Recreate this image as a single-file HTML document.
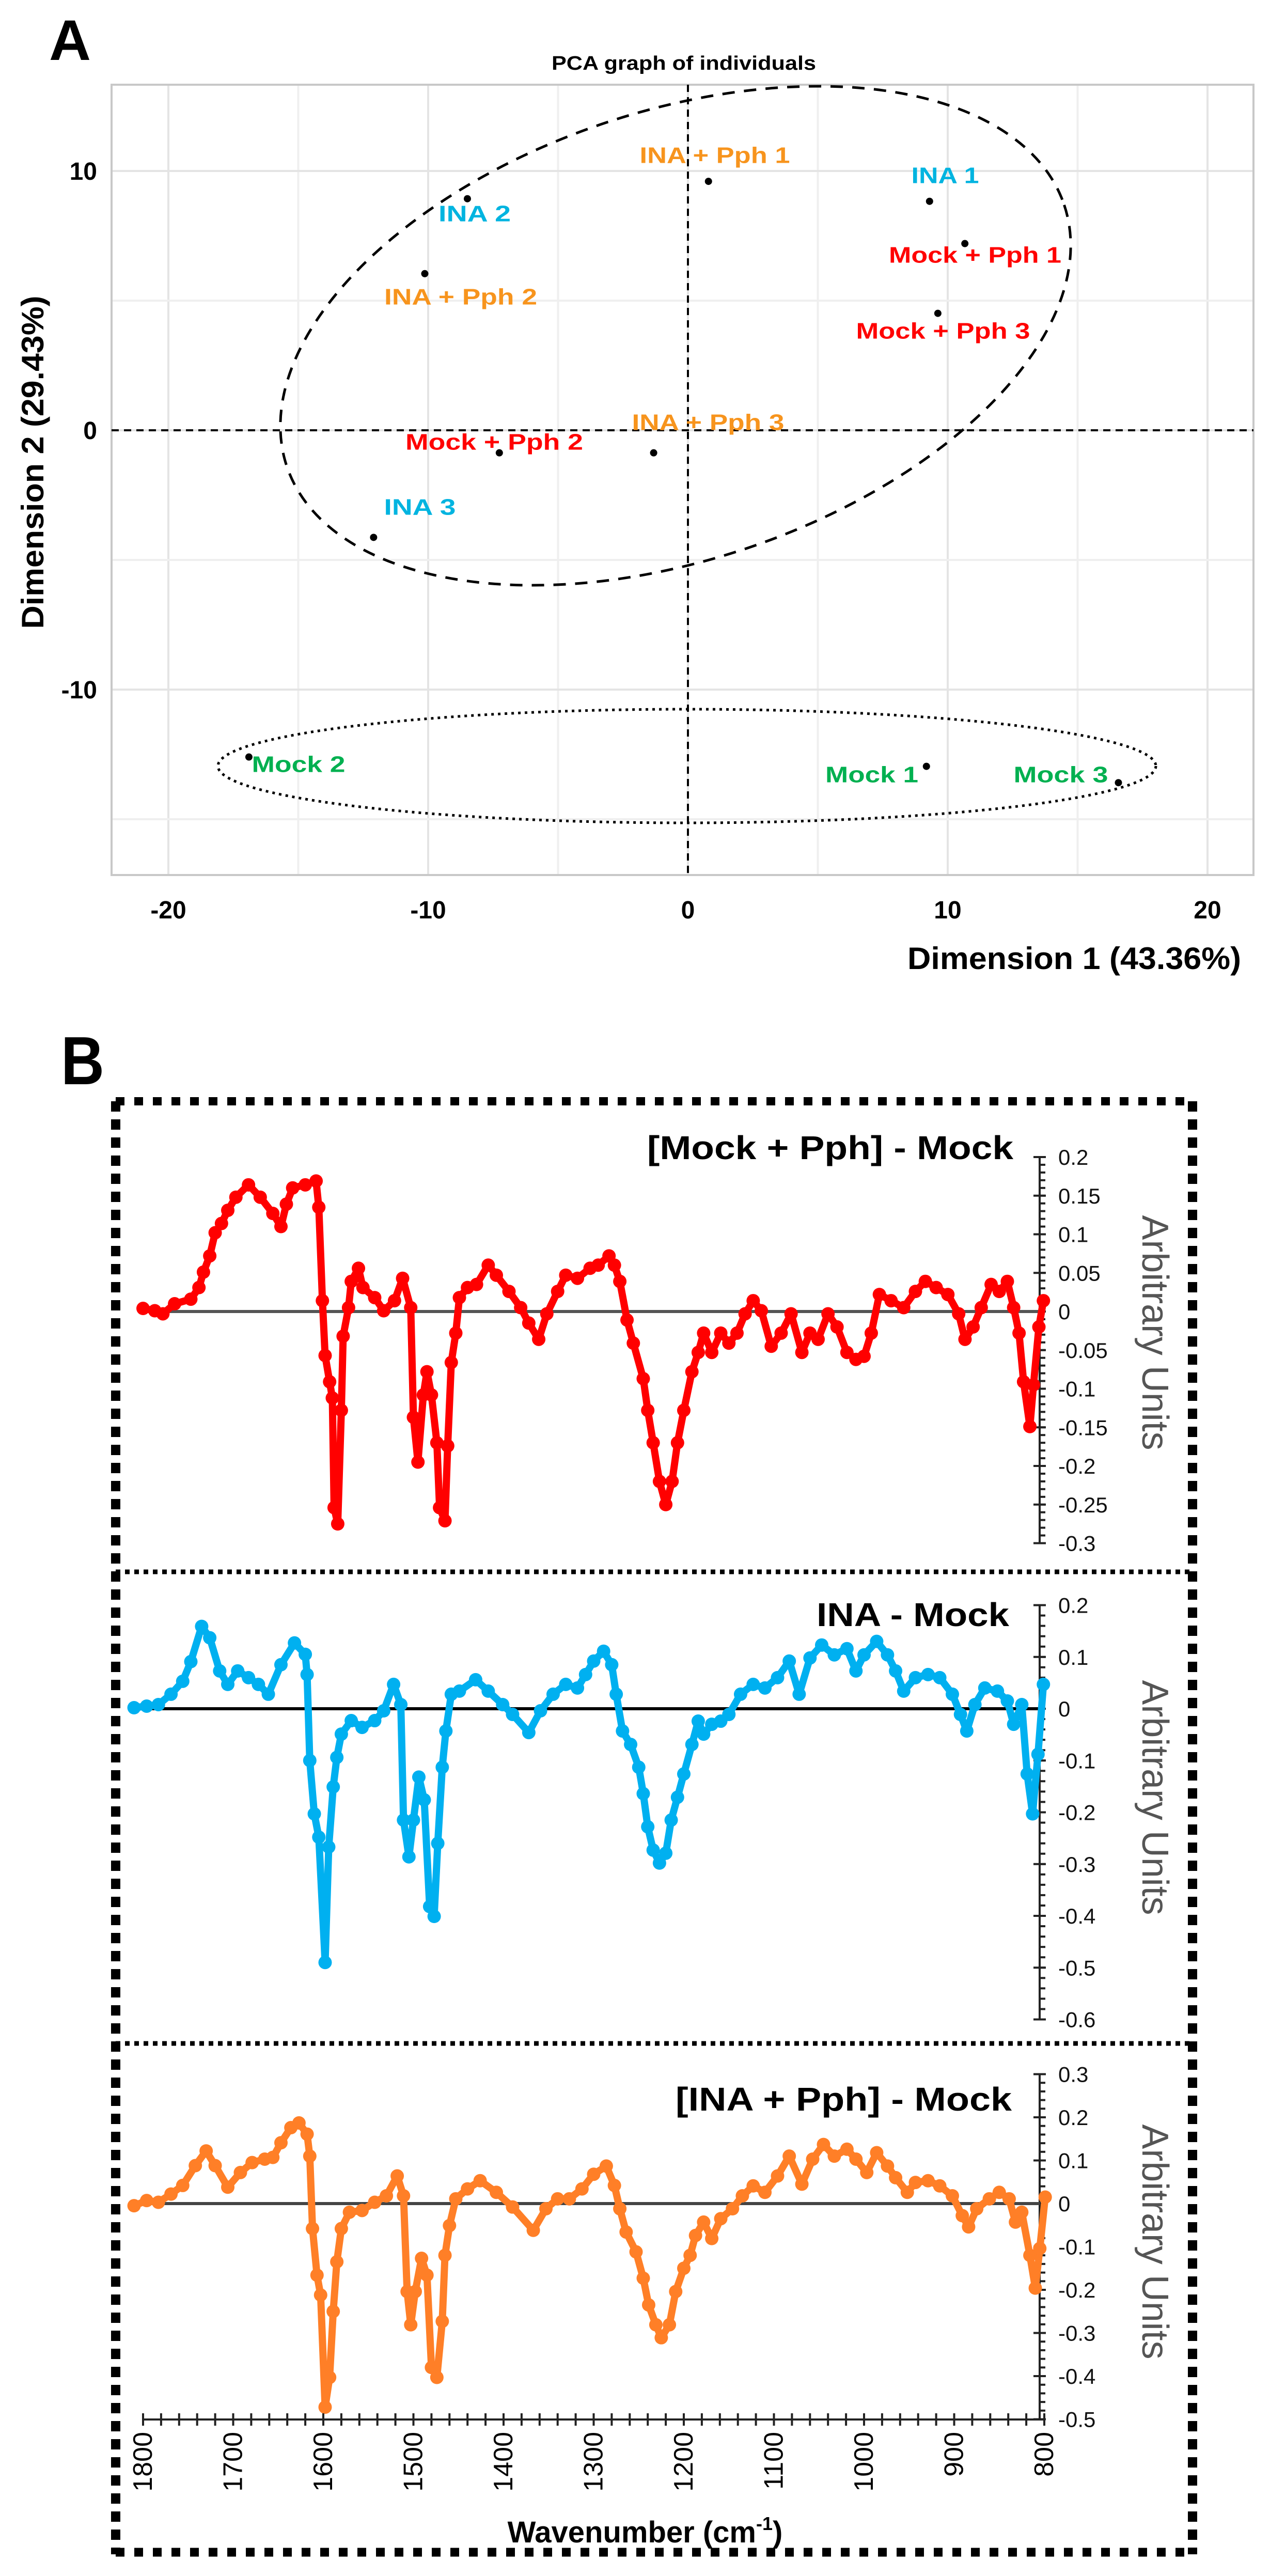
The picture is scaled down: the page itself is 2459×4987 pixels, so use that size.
<!DOCTYPE html>
<html><head><meta charset="utf-8"><title>PCA and difference spectra</title>
<style>
html,body{margin:0;padding:0;background:#fff;}
svg{display:block;font-family:"Liberation Sans",Arial,sans-serif;}
</style></head>
<body>
<svg id="fig" xmlns="http://www.w3.org/2000/svg" width="2459" height="4987" viewBox="0 0 2459 4987">
<rect x="0" y="0" width="2459" height="4987" fill="#fff"/>
<g id="panelA">
  <text x="95" y="116" font-size="110" font-weight="bold" textLength="81" lengthAdjust="spacingAndGlyphs">A</text>
  <text x="1324" y="135" font-size="38" font-weight="bold" text-anchor="middle" textLength="512" lengthAdjust="spacingAndGlyphs">PCA graph of individuals</text>
  <g id="pcaGrid"></g>
  <rect x="216" y="164" width="2211" height="1530" fill="none" stroke="#c8c8c8" stroke-width="4"/>
  <g id="pcaAxes"></g>
  <ellipse cx="1308" cy="650" rx="794" ry="434" transform="rotate(-18.6 1308 650)" fill="none" stroke="#000" stroke-width="5" stroke-dasharray="24 18"/>
  <ellipse cx="1330" cy="1483" rx="908" ry="110" fill="none" stroke="#000" stroke-width="5" stroke-dasharray="5 8"/>
  <g id="pcaPoints"></g>
  <g font-size="44" font-weight="bold" text-anchor="middle" dominant-baseline="central">
    <text x="1384" y="301" fill="#f7941d" textLength="291" lengthAdjust="spacingAndGlyphs">INA + Pph 1</text>
    <text x="1830" y="340" fill="#00b4e0" textLength="131" lengthAdjust="spacingAndGlyphs">INA 1</text>
    <text x="1888" y="494" fill="#ff0000" textLength="334" lengthAdjust="spacingAndGlyphs">Mock + Pph 1</text>
    <text x="1826" y="641" fill="#ff0000" textLength="337" lengthAdjust="spacingAndGlyphs">Mock + Pph 3</text>
    <text x="919" y="414" fill="#00b4e0" textLength="140" lengthAdjust="spacingAndGlyphs">INA 2</text>
    <text x="892" y="575" fill="#f7941d" textLength="296" lengthAdjust="spacingAndGlyphs">INA + Pph 2</text>
    <text x="957" y="856" fill="#ff0000" textLength="344" lengthAdjust="spacingAndGlyphs">Mock + Pph 2</text>
    <text x="1371" y="818" fill="#f7941d" textLength="295" lengthAdjust="spacingAndGlyphs">INA + Pph 3</text>
    <text x="813" y="982" fill="#00b4e0" textLength="139" lengthAdjust="spacingAndGlyphs">INA 3</text>
    <text x="578" y="1480" fill="#00b050" textLength="181" lengthAdjust="spacingAndGlyphs">Mock 2</text>
    <text x="1688" y="1500" fill="#00b050" textLength="180" lengthAdjust="spacingAndGlyphs">Mock 1</text>
    <text x="2054" y="1500" fill="#00b050" textLength="183" lengthAdjust="spacingAndGlyphs">Mock 3</text>
  </g>
  <text x="2403" y="1876" font-size="60" font-weight="bold" text-anchor="end" textLength="646" lengthAdjust="spacingAndGlyphs">Dimension 1 (43.36%)</text>
  <text transform="translate(84 895) rotate(-90)" font-size="60" font-weight="bold" text-anchor="middle" textLength="645" lengthAdjust="spacingAndGlyphs">Dimension 2 (29.43%)</text>
</g>
<g id="panelB">
  <text x="118" y="2099" font-size="132" font-weight="bold" textLength="84" lengthAdjust="spacingAndGlyphs">B</text>
  <g stroke="#000">
    <line x1="224" y1="2132" x2="2310" y2="2132" stroke-width="16" stroke-dasharray="17 19"/>
    <line x1="224" y1="4941" x2="2310" y2="4941" stroke-width="17" stroke-dasharray="17 19"/>
    <line x1="224" y1="2132" x2="224" y2="4945" stroke-width="18" stroke-dasharray="20 15"/>
    <line x1="2309" y1="2132" x2="2309" y2="4945" stroke-width="18" stroke-dasharray="20 15"/>
    <line x1="224" y1="3043" x2="2310" y2="3043" stroke-width="9" stroke-dasharray="9 9"/>
    <line x1="224" y1="3956" x2="2310" y2="3956" stroke-width="9" stroke-dasharray="9 9"/>
  </g>
  <g id="spectra"></g>
  <text x="1962" y="2244" font-size="64" font-weight="bold" text-anchor="end" textLength="709" lengthAdjust="spacingAndGlyphs">[Mock + Pph] - Mock</text>
  <text x="1954" y="3148" font-size="64" font-weight="bold" text-anchor="end" textLength="373" lengthAdjust="spacingAndGlyphs">INA - Mock</text>
  <text x="1959" y="4086" font-size="64" font-weight="bold" text-anchor="end" textLength="651" lengthAdjust="spacingAndGlyphs">[INA + Pph] - Mock</text>
  <text transform="translate(2212 2580) rotate(90)" font-size="72" fill="#555" text-anchor="middle" textLength="455" lengthAdjust="spacingAndGlyphs">Arbitrary Units</text>
  <text transform="translate(2212 3480) rotate(90)" font-size="72" fill="#555" text-anchor="middle" textLength="455" lengthAdjust="spacingAndGlyphs">Arbitrary Units</text>
  <text transform="translate(2212 4340) rotate(90)" font-size="72" fill="#555" text-anchor="middle" textLength="455" lengthAdjust="spacingAndGlyphs">Arbitrary Units</text>
  <text x="1249" y="4922" font-size="58" font-weight="bold" text-anchor="middle">Wavenumber (cm<tspan font-size="36" dy="-24">-1</tspan><tspan dy="24">)</tspan></text>
</g>
</svg>
<script>
const pcaNames = ["INA + Pph 1","INA 1","Mock + Pph 1","Mock + Pph 3","INA 2","INA + Pph 2","Mock + Pph 2","INA + Pph 3","INA 3","Mock 2","Mock 1","Mock 3"];
const pcaDim1 = [0.79, 9.3, 10.66, 9.62, -8.49, -10.13, -7.26, -1.32, -12.1, -16.9, 9.18, 16.57];
const pcaDim2 = [9.6, 8.83, 7.2, 4.51, 8.93, 6.04, -0.87, -0.87, -4.13, -12.6, -12.96, -13.59];
const pcaXTicks = [-20, -10, 0, 10, 20];
const pcaYTicks = [10, 0, -10];

const redWn = [1800,1787,1778,1765,1747,1738,1733,1726,1720,1713,1706,1697,1683,1670,1656,1647,1641,1634,1620,1608,1605,1601,1598,1593,1590,1588,1584,1580,1578,1572,1569,1561,1556,1543,1533,1521,1512,1503,1500,1495,1489,1485,1480,1474,1471,1465,1462,1458,1453,1449,1440,1430,1417,1408,1394,1381,1372,1361,1352,1340,1331,1318,1304,1295,1283,1277,1271,1263,1256,1245,1240,1234,1227,1220,1213,1207,1200,1191,1184,1178,1169,1159,1150,1141,1132,1123,1114,1103,1092,1081,1069,1060,1051,1040,1030,1019,1009,1000,992,983,970,956,943,932,920,907,895,888,879,870,859,850,841,834,828,823,816,812,806,801];
const redVal = [0.004,0.001,-0.003,0.010,0.016,0.031,0.051,0.072,0.102,0.114,0.131,0.148,0.164,0.148,0.127,0.110,0.139,0.160,0.164,0.169,0.135,0.014,-0.057,-0.091,-0.112,-0.254,-0.275,-0.128,-0.032,0.005,0.039,0.056,0.031,0.018,0.001,0.014,0.043,0.005,-0.137,-0.195,-0.108,-0.078,-0.108,-0.170,-0.254,-0.271,-0.174,-0.066,-0.028,0.018,0.031,0.035,0.060,0.047,0.026,0.005,-0.015,-0.036,-0.003,0.026,0.047,0.043,0.056,0.060,0.072,0.060,0.039,-0.011,-0.041,-0.087,-0.128,-0.170,-0.220,-0.250,-0.220,-0.170,-0.128,-0.078,-0.053,-0.028,-0.053,-0.028,-0.041,-0.028,-0.003,0.014,0.001,-0.045,-0.028,-0.003,-0.053,-0.028,-0.036,-0.003,-0.020,-0.053,-0.062,-0.058,-0.028,0.022,0.014,0.005,0.026,0.039,0.031,0.022,-0.003,-0.036,-0.020,0.005,0.035,0.026,0.039,0.005,-0.028,-0.091,-0.149,-0.095,-0.020,0.014];
const blueWn = [1810,1796,1783,1769,1756,1747,1735,1726,1715,1706,1695,1683,1672,1661,1647,1632,1620,1618,1615,1610,1605,1598,1594,1589,1585,1580,1569,1557,1543,1533,1522,1514,1511,1505,1500,1494,1488,1482,1477,1473,1468,1464,1458,1449,1431,1417,1401,1390,1372,1359,1345,1331,1318,1309,1300,1289,1280,1275,1268,1259,1250,1245,1240,1234,1227,1220,1214,1207,1200,1191,1184,1178,1169,1159,1150,1137,1123,1110,1096,1083,1072,1060,1047,1033,1019,1009,1000,986,974,965,956,943,929,916,902,893,886,877,866,852,841,834,825,819,813,807,801];
const blueVal = [0.002,0.005,0.008,0.028,0.053,0.091,0.159,0.137,0.073,0.047,0.073,0.060,0.047,0.028,0.085,0.127,0.105,0.066,-0.100,-0.203,-0.248,-0.490,-0.267,-0.151,-0.094,-0.049,-0.023,-0.036,-0.023,-0.004,0.047,0.008,-0.215,-0.286,-0.215,-0.132,-0.176,-0.382,-0.401,-0.260,-0.113,-0.043,0.028,0.034,0.056,0.034,0.008,-0.011,-0.046,-0.004,0.028,0.047,0.040,0.066,0.092,0.111,0.085,0.028,-0.043,-0.069,-0.113,-0.164,-0.228,-0.273,-0.298,-0.279,-0.215,-0.171,-0.126,-0.069,-0.024,-0.049,-0.030,-0.024,-0.011,0.028,0.047,0.040,0.060,0.092,0.028,0.098,0.123,0.104,0.116,0.073,0.104,0.130,0.104,0.073,0.034,0.060,0.066,0.060,0.028,-0.011,-0.043,0.008,0.040,0.034,0.015,-0.030,0.008,-0.126,-0.203,-0.088,0.047];
const orangeWn = [1810,1796,1783,1769,1756,1742,1730,1720,1706,1692,1679,1665,1656,1647,1636,1627,1618,1615,1612,1607,1603,1598,1593,1589,1585,1580,1571,1557,1543,1530,1518,1511,1507,1503,1498,1491,1485,1480,1474,1468,1465,1460,1453,1440,1426,1408,1390,1367,1353,1340,1327,1313,1300,1286,1277,1271,1264,1253,1245,1239,1231,1225,1216,1209,1200,1193,1187,1178,1169,1159,1146,1135,1123,1110,1096,1083,1069,1057,1045,1033,1019,1009,997,986,974,965,952,943,929,916,902,891,884,875,861,850,839,832,825,816,810,805,799];
const orangeVal = [-0.005,0.007,0.003,0.022,0.042,0.088,0.122,0.088,0.038,0.072,0.095,0.103,0.107,0.141,0.176,0.187,0.161,0.110,-0.058,-0.166,-0.212,-0.472,-0.403,-0.250,-0.135,-0.058,-0.020,-0.016,0.003,0.018,0.064,0.018,-0.204,-0.281,-0.204,-0.127,-0.166,-0.380,-0.403,-0.273,-0.120,-0.051,0.011,0.034,0.053,0.026,-0.008,-0.062,-0.012,0.011,0.011,0.034,0.068,0.087,0.042,-0.012,-0.066,-0.112,-0.173,-0.235,-0.281,-0.311,-0.281,-0.204,-0.150,-0.120,-0.074,-0.043,-0.081,-0.035,-0.012,0.018,0.041,0.026,0.064,0.110,0.045,0.103,0.137,0.110,0.126,0.103,0.072,0.118,0.087,0.060,0.026,0.049,0.053,0.041,0.018,-0.028,-0.054,-0.012,0.011,0.026,0.011,-0.043,-0.020,-0.120,-0.196,-0.104,0.015];
const redTicks = ["0.2","0.15","0.1","0.05","0","-0.05","-0.1","-0.15","-0.2","-0.25","-0.3"];
const blueTicks = ["0.2","0.1","0","-0.1","-0.2","-0.3","-0.4","-0.5","-0.6"];
const orangeTicks = ["0.3","0.2","0.1","0","-0.1","-0.2","-0.3","-0.4","-0.5"];
const wnTicks = [1800,1700,1600,1500,1400,1300,1200,1100,1000,900,800];

const NS = "http://www.w3.org/2000/svg";
function mk(tag, attrs, parent){
  const e = document.createElementNS(NS, tag);
  for (const k in attrs) e.setAttribute(k, attrs[k]);
  parent.appendChild(e);
  return e;
}

const px = v => 1332 + v * 50.3;
const py = v => 833 - v * 50.2;
const grid = document.getElementById('pcaGrid');
for (let v = -20; v <= 20; v += 5) {
  const l = mk('line', {x1: px(v), x2: px(v), y1: 164, y2: 1694, stroke: v % 10 === 0 ? '#e4e4e4' : '#efefef', 'stroke-width': 4}, grid);
  
  
}
for (let v = -15; v <= 10; v += 5) {
  const l = mk('line', {x1: 216, x2: 2427, y1: py(v), y2: py(v), stroke: v % 10 === 0 ? '#e4e4e4' : '#efefef', 'stroke-width': 4}, grid);
  
  
}
const ax = document.getElementById('pcaAxes');
const vz = mk('line', {x1: px(0), x2: px(0), y1: 164, y2: 1694, stroke: '#000', 'stroke-width': 4, 'stroke-dasharray': '14 10'}, ax);


const hz = mk('line', {x1: 216, x2: 2427, y1: py(0), y2: py(0), stroke: '#000', 'stroke-width': 4, 'stroke-dasharray': '14 10'}, ax);


pcaXTicks.forEach(t => {
  const tx = mk('text', {x: px(t), y: 1778, 'font-size': 48, 'font-weight': 'bold', 'text-anchor': 'middle'}, ax);
  tx.textContent = String(t);
  
  
});
pcaYTicks.forEach(t => {
  const tx = mk('text', {x: 188, y: py(t) + 17, 'font-size': 48, 'font-weight': 'bold', 'text-anchor': 'end'}, ax);
  tx.textContent = String(t);
  
  
});
const pts = document.getElementById('pcaPoints');
pcaNames.forEach((n, i) => {
  const c = mk('circle', {cx: px(pcaDim1[i]), cy: py(pcaDim2[i]), r: 7, fill: '#000'}, pts);
  
  
});

const xw = wn => 277 + (1800 - wn) * 1.745;
const spec = document.getElementById('spectra');
const axisX = 2013;
function panel(wns, vals, ticks, color, zeroY, perUnit, minorStep, zeroColor, name){
  const yv = v => zeroY - v * perUnit;
  const g = mk('g', {}, spec);
  
  
  const tv = ticks.map(Number);
  const top = tv[0], bot = tv[tv.length - 1];
  const al = mk('line', {x1: axisX, x2: axisX, y1: yv(top), y2: yv(bot), stroke: '#222', 'stroke-width': 4}, g);
  
  
  const nMinor = Math.round((top - bot) / minorStep);
  for (let k = 0; k <= nMinor; k++) {
    const v = top - k * minorStep;
    const m = mk('line', {x1: axisX, x2: axisX + 11, y1: yv(v), y2: yv(v), stroke: '#222', 'stroke-width': 4}, g);
    
    
  }
  ticks.forEach((t, i) => {
    const v = tv[i];
    const m = mk('line', {x1: axisX - 12, x2: axisX + 12, y1: yv(v), y2: yv(v), stroke: '#222', 'stroke-width': 4}, g);
    
    
    const tx = mk('text', {x: axisX + 36, y: yv(v) + 15, 'font-size': 42, fill: '#111'}, g);
    tx.textContent = t;
    
    
  });
  const z = mk('line', {x1: xw(1800), x2: axisX, y1: yv(0), y2: yv(0), stroke: zeroColor, 'stroke-width': 6}, g);
  
  
  const d = wns.map((w, i) => (i ? 'L' : 'M') + xw(w).toFixed(1) + ' ' + yv(vals[i]).toFixed(1)).join(' ');
  const p = mk('path', {d: d, fill: 'none', stroke: color, 'stroke-width': 14, 'stroke-linejoin': 'round', 'stroke-linecap': 'round'}, g);
  
  
  wns.forEach((w, i) => {
    const c = mk('circle', {cx: xw(w), cy: yv(vals[i]), r: 13, fill: color}, g);
    
    
  });
}
panel(redWn, redVal, redTicks, '#ff0000', 2539, 1495, 0.01, '#555', 'red-panel');
panel(blueWn, blueVal, blueTicks, '#00b0f0', 3308, 1002.5, 0.02, '#000', 'blue-panel');
panel(orangeWn, orangeVal, orangeTicks, '#ff7f27', 4266, 835, 0.02, '#444', 'orange-panel');

const xa = mk('g', {}, spec);


const xl = mk('line', {x1: xw(1800), x2: xw(800), y1: 4684, y2: 4684, stroke: '#222', 'stroke-width': 4}, xa);


for (let w = 1800; w >= 800; w -= 20) {
  const t = mk('line', {x1: xw(w), x2: xw(w), y1: 4672, y2: 4696, stroke: '#222', 'stroke-width': 4}, xa);
  
  
}
wnTicks.forEach(w => {
  const t = mk('text', {transform: 'translate(' + (xw(w) + 17) + ' 4708) rotate(-90)', 'font-size': 52, 'text-anchor': 'end'}, xa);
  t.textContent = String(w);
  
  
});
</script>
</body></html>
